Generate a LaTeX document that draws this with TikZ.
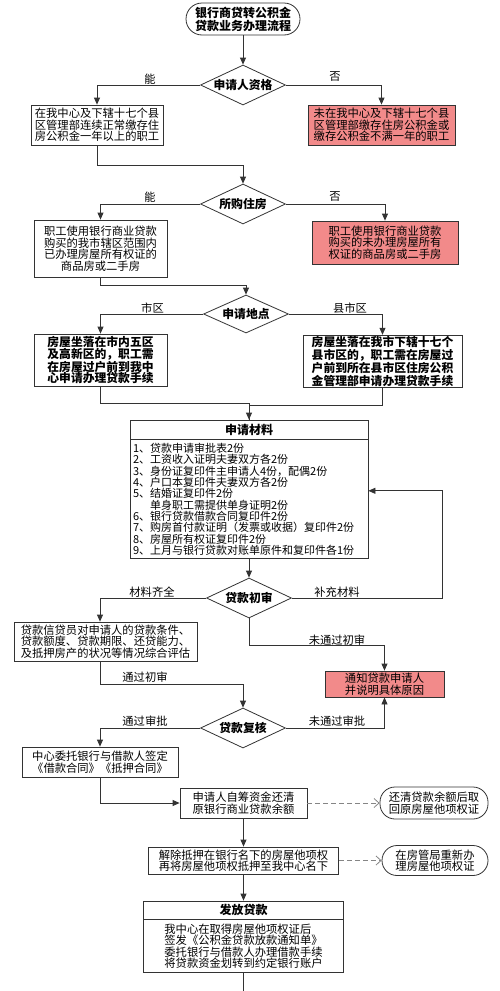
\documentclass[tikz,border=0pt]{standalone}
\usepackage{fontspec}
\setmainfont{Noto Sans CJK SC}
\usepackage{xcolor}
\definecolor{hfred}{HTML}{F28A8A}
\definecolor{hfline}{HTML}{333333}
\definecolor{hfdash}{HTML}{858585}
\usetikzlibrary{arrows.meta,positioning,shapes.geometric}

\begin{document}
\begin{tikzpicture}[x=1pt,y=-1pt,
  font=\fontsize{11.3}{11.5}\selectfont,
  bx/.style={draw=hfline,line width=0.8pt,fill=white,inner xsep=2pt,inner ysep=1.5pt,align=center},
  rbx/.style={bx,fill=hfred},
  bf/.style={font=\fontsize{11.8}{11.5}\selectfont\bfseries},
  hd/.style={draw=hfline,line width=0.8pt,fill=white,inner sep=1.5pt,font=\fontsize{12}{13}\selectfont\bfseries},
  tt/.style={draw=hfline,line width=0.8pt,rounded corners=16pt,align=center,minimum width=114pt,minimum height=32pt,font=\fontsize{12}{13}\selectfont\bfseries},
  el/.style={draw=hfline,line width=0.8pt,rounded corners=15pt,align=center,inner sep=1.5pt},
  dm/.style={diamond,draw=hfline,line width=0.8pt,fill=white,aspect=2.1,inner sep=0pt,minimum width=85pt,minimum height=40pt,font=\fontsize{11.8}{13}\selectfont\bfseries},
  lb/.style={inner sep=1pt},
  fl/.style={-{Triangle[length=7pt,width=6pt]},hfline,line width=0.8pt},
  dl/.style={-{Straight Barb[length=5pt,width=9pt]},hfdash,line width=0.8pt,dash pattern=on 5pt off 3pt}]
\useasboundingbox (0,0) rectangle (500,991);
\node[tt] (t) at (243,19) {银行商贷转公积金\\贷款业务办理流程};
\node[dm] (d1) at (243,85) {申请人资格};
\node[bx,minimum width=132pt,minimum height=40pt] (b1) at (97,125) {在我中心及下辖十七个县\\区管理部连续正常缴存住\\房公积金一年以上的职工};
\node[rbx,minimum width=147pt,minimum height=40pt] (r1) at (381.5,125) {未在我中心及下辖十七个县\\区管理部缴存住房公积金或\\缴存公积金不满一年的职工};
\node[dm] (d2) at (243,204) {所购住房};
\node[bx,minimum width=133pt,minimum height=57pt] (b2) at (100.5,248.5) {职工使用银行商业贷款\\购买的我市辖区范围内\\已办理房屋所有权证的\\商品房或二手房};
\node[rbx,minimum width=146pt,minimum height=43pt] (r2) at (385,242.5) {职工使用银行商业贷款\\购买的未办理房屋所有\\权证的商品房或二手房};
\node[dm,minimum height=38pt] (d3) at (246,314) {申请地点};
\node[bx,bf,minimum width=133pt,minimum height=52pt] (b3) at (100.5,360) {房屋坐落在市内五区\\及高新区的，职工需\\在房屋过户前到我中\\心申请办理贷款手续};
\node[bx,bf,minimum width=159pt,minimum height=49pt] (r3) at (382.5,361.5) {房屋坐落在我市下辖十七个\\县市区的，职工需在房屋过\\户前到所在县市区住房公积\\金管理部申请办理贷款手续};
\node[hd,minimum width=238pt,minimum height=19pt] (b4t) at (249,429.5) {申请材料\hspace{30pt}};
\node[bx,below=0pt of b4t,minimum width=238pt,minimum height=119pt,text width=232pt,inner xsep=3pt,align=left,font=\fontsize{11}{11.3}\selectfont] (b4) {1、贷款申请审批表2份\\2、工资收入证明夫妻双方各2份\\3、身份证复印件主申请人4份，配偶2份\\4、户口本复印件夫妻双方各2份\\5、结婚证复印件2份\\\phantom{5、}单身职工需提供单身证明2份\\6、银行贷款借款合同复印件2份\\7、购房首付款证明（发票或收据）复印件2份\\8、房屋所有权证复印件2份\\9、上月与银行贷款对账单原件和复印件各1份};
\node[dm] (d5) at (249,598) {贷款初审};
\node[bx,minimum width=183pt,minimum height=39pt] (b5) at (105.5,641.5) {贷款信贷员对申请人的贷款条件、\\贷款额度、贷款期限、还贷能力、\\及抵押房产的状况等情况综合评估};
\node[rbx,minimum width=119pt,minimum height=26pt] (r6) at (384.5,684) {通知贷款申请人\\并说明具体原因};
\node[dm] (d6) at (243,728) {贷款复核};
\node[bx,minimum width=156pt,minimum height=30pt] (b7) at (100,762) {中心委托银行与借款人签定\\《借款合同》《抵押合同》};
\node[bx,minimum width=127pt,minimum height=30pt] (b8) at (243.5,803) {申请人自筹资金还清\\原银行商业贷款余额};
\node[el,minimum width=108pt,minimum height=32pt] (e8) at (434,803) {还清贷款余额后取\\回原房屋他项权证};
\node[bx,minimum width=190pt,minimum height=27pt] (b9) at (243.5,860.5) {解除抵押在银行名下的房屋他项权\\再将房屋他项权抵押至我中心名下};
\node[el,minimum width=106pt,minimum height=30pt] (e9) at (435,860.5) {在房管局重新办\\理房屋他项权证};
\node[hd,minimum width=200pt,minimum height=18pt] (b10t) at (243.5,910) {发放贷款};
\node[bx,below=0pt of b10t,minimum width=200pt,minimum height=53pt,align=left] (b10) {我中心在取得房屋他项权证后\\签发《公积金贷款放款通知单》\\委托银行与借款人办理借款手续\\将贷款资金划转到约定银行账户};
\coordinate (fb) at (442,598);
\coordinate (end) at (243.5,991);
\node[lb] (l1) at (150,79) {能};
\node[lb] (l2) at (335,77) {否};
\node[lb] (l3) at (150,197) {能};
\node[lb] (l4) at (335,197) {否};
\node[lb] (l5) at (152.5,308) {市区};
\node[lb] (l6) at (350,308) {县市区};
\node[lb] (l7) at (152,592) {材料齐全};
\node[lb] (l8) at (337,592) {补充材料};
\node[lb] (l9) at (337,640) {未通过初审};
\node[lb] (l10) at (145,677) {通过初审};
\node[lb] (l11) at (145,721) {通过审批};
\node[lb] (l12) at (337,721) {未通过审批};
\draw[fl] (t) -- (d1);
\draw[fl] (d1.west) -| (b1.north); \draw[fl] (d1.east) -| (r1.north);
\draw[fl] (b1.south) -- ++(0,20) -| (d2.north);
\draw[fl] (d2.west) -| (b2.north); \draw[fl] (d2.east) -| (r2.north);
\draw[fl] (b2.south) -- ++(0,8) -| (d3.north);
\draw[fl] (d3.west) -| (b3.north); \draw[fl] (d3.east) -| (r3.north);
\draw[fl] (b3.south) -- ++(0,17) -| (b4t.north);
\draw[hfline,line width=0.8pt] (r3.south) -- ++(0,17) -| (b4t.north);
\draw[fl] (b4.south) -- (d5.north);
\draw[fl] (d5.east) -- (fb) |- ([yshift=8.5pt]b4.east);
\draw[fl] (d5.west) -| ([xshift=-5.5pt]b5.north);
\draw[fl] (d5.south) -- ++(0,27) -| (r6.north);
\draw[fl] ([xshift=-5.5pt]b5.south) -- ++(0,23) -| (d6.north);
\draw[fl] (d6.west) -| (b7.north); \draw[fl] (d6.east) -| (r6.south);
\draw[fl] (b7.south) |- (b8.west);
\draw[dl] (b8.east) -- (e8.west);
\draw[fl] (b8.south) -- (b9.north);
\draw[dl] (b9.east) -- (e9.west);
\draw[fl] (b9.south) -- (b10t.north);
\draw[hfline,line width=0.8pt] (b10.south) -- (end);
\end{tikzpicture}
\end{document}
